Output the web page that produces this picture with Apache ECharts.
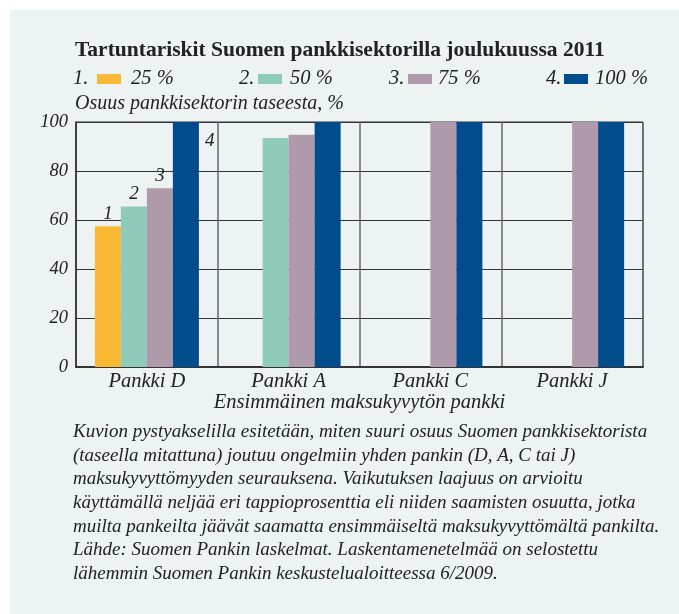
<!DOCTYPE html>
<html><head><meta charset="utf-8">
<script src="https://cdn.jsdelivr.net/npm/echarts@6/dist/echarts.min.js"></script>
<style>html,body{margin:0;padding:0;background:#fff}#c{width:679px;height:614px}</style>
</head><body><div id="c"></div>
<script>
var categories = ['Pankki D', 'Pankki A', 'Pankki C', 'Pankki J'];
var seriesNames = ['25 %', '50 %', '75 %', '100 %'];
var seriesNumbers = ['1.', '2.', '3.', '4.'];
var colors = ['#F9B935', '#8ECBBB', '#AF9AAB', '#004C8C'];
var values25 = [57.5, null, null, null];
var values50 = [65.5, 93.5, null, null];
var values75 = [73, 94.8, 100, 100];
var values100 = [100, 100, 100, 100];
var barLabels = ['1', '2', '3', '4'];
var yTicks = {min: 0, max: 100, interval: 20};
var titleText = 'Tartuntariskit Suomen pankkisektorilla joulukuussa 2011';
var yAxisTitle = 'Osuus pankkisektorin taseesta, %';
var xAxisTitle = 'Ensimmäinen maksukyvytön pankki';
var captionLines = [
 'Kuvion pystyakselilla esitetään, miten suuri osuus Suomen pankkisektorista',
 '(taseella mitattuna) joutuu ongelmiin yhden pankin (D, A, C tai J)',
 'maksukyvyttömyyden seurauksena. Vaikutuksen laajuus on arvioitu',
 'käyttämällä neljää eri tappioprosenttia eli niiden saamisten osuutta, jotka',
 'muilta pankeilta jäävät saamatta ensimmäiseltä maksukyvyttömältä pankilta.',
 'Lähde: Suomen Pankin laskelmat. Laskentamenetelmää on selostettu',
 'lähemmin Suomen Pankin keskustelualoitteessa 6/2009.'
];
var allValues = [values25, values50, values75, values100];

var serif = '"Liberation Serif", "DejaVu Serif", serif';
var textColor = '#222';

var chart = echarts.init(document.getElementById('c'));

var legendX = [[73, 97, 131], [239, 258, 290], [389, 408, 438], [546, 564, 595]];
var graphics = [
  {type: 'rect', left: 10, top: 10, shape: {width: 669, height: 604}, style: {fill: '#EDF2F2'}, z: -10, silent: true},
  {type: 'text', left: 75, top: 39, style: {text: titleText, font: 'bold 21.5px ' + serif, fill: textColor}},
  {type: 'text', left: 75, top: 94, style: {text: yAxisTitle, font: 'italic 20px ' + serif, fill: textColor}},
  {type: 'text', left: 73, top: 420, style: {text: captionLines.join('\n'), font: 'italic 19px ' + serif, fill: textColor, lineHeight: 23.7}}
];
seriesNames.forEach(function (n, i) {
  var p = legendX[i];
  graphics.push({type: 'text', left: p[0], top: 69, style: {text: seriesNumbers[i], font: 'italic 20.5px ' + serif, fill: textColor}});
  graphics.push({type: 'rect', left: p[1], top: 74, shape: {width: 24, height: 10}, style: {fill: colors[i]}});
  graphics.push({type: 'text', left: p[2], top: 69, style: {text: n, font: 'italic 20.5px ' + serif, fill: textColor}});
});

var series = allValues.map(function (vals, i) {
  return {
    name: seriesNames[i],
    type: 'bar',
    data: vals.map(function (v, j) {
      var d = {value: v};
      if (j === 0) {
        d.label = {show: true, formatter: barLabels[i], position: i === 3 ? [32, 9] : 'top', distance: 3,
          fontFamily: serif, fontStyle: 'italic', fontSize: 19, color: textColor};
      }
      return d;
    }),
    barWidth: 26,
    barGap: '0%',
    itemStyle: {color: colors[i]},
    z: 3
  };
});

chart.setOption({
  animation: false,
  backgroundColor: 'transparent',
  graphic: graphics,
  grid: {left: 76, right: 36, top: 122, bottom: 247, show: true, borderColor: '#333', borderWidth: 1, containLabel: false},
  xAxis: {
    type: 'category', data: categories,
    axisLine: {lineStyle: {color: '#333', width: 2}},
    axisTick: {show: false},
    axisLabel: {fontFamily: serif, fontStyle: 'italic', fontSize: 20.5, color: textColor, margin: 5},
    splitLine: {show: true, lineStyle: {color: '#666', width: 1.5}},
    name: xAxisTitle, nameLocation: 'middle', nameGap: 26,
    nameTextStyle: {fontFamily: serif, fontStyle: 'italic', fontSize: 20.5, color: textColor}
  },
  yAxis: {
    type: 'value', min: yTicks.min, max: yTicks.max, interval: yTicks.interval,
    axisLine: {show: true, lineStyle: {color: '#333', width: 1.5}},
    axisTick: {show: false},
    axisLabel: {fontFamily: serif, fontStyle: 'italic', fontSize: 18.5, color: textColor, margin: 8},
    splitLine: {show: true, lineStyle: {color: '#333', width: 1}}
  },
  series: series
});
</script>
</body></html>
